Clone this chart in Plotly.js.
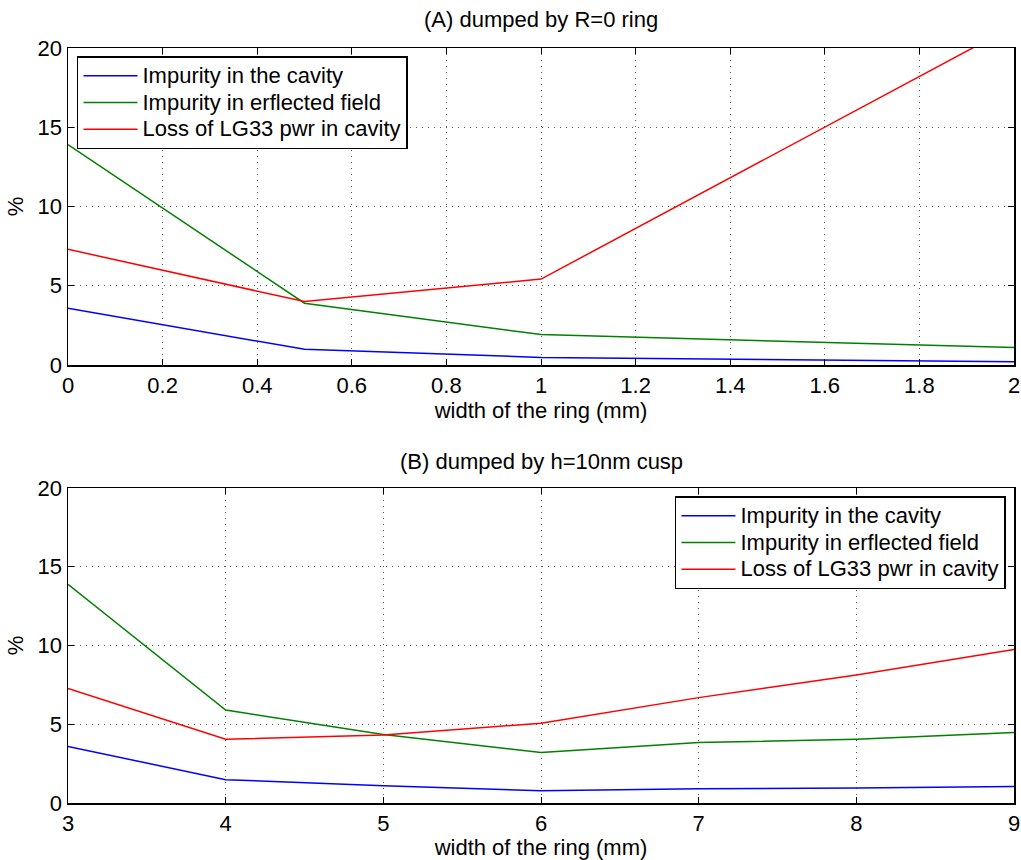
<!DOCTYPE html>
<html>
<head>
<meta charset="utf-8">
<script src="https://cdn.plot.ly/plotly-3.0.1.min.js"></script>
<style>html,body{margin:0;padding:0;background:#fff;}#chart{width:1021px;height:860px;}</style>
</head>
<body>
<div id="chart"></div>
<script>
// Panel A
const xA = [0, 0.5, 1, 2];
const cavityA = [3.58, 0.99, 0.48, 0.21];
const reflectedA = [13.9, 3.9, 1.92, 1.1];
const lossA = [7.3, 4.0, 5.42, 21.4];
// Panel B
const xB = [3, 4, 5, 6, 7, 8, 9];
const cavityB = [3.59, 1.48, 1.1, 0.78, 0.9, 0.95, 1.05];
const reflectedB = [13.88, 5.9, 4.35, 3.2, 3.84, 4.05, 4.47];
const lossB = [7.28, 4.05, 4.32, 5.06, 6.69, 8.12, 9.75];

const names = ["Impurity in the cavity", "Impurity in erflected field", "Loss of LG33 pwr in cavity"];
const colors = ["#0000ff", "#008000", "#ff0000"];
const FONT = "Liberation Sans, Arial, Helvetica, sans-serif";
const FS = 22;
const LEGFS = 18.2;

function tr(x, y, i, ax, leg) {
  return {x: x, y: y, type: "scatter", mode: "lines",
    name: '<span style="font-size:' + FS + 'px">' + names[i] + '</span>',
    line: {color: colors[i], width: 1.5}, xaxis: ax[0], yaxis: ax[1], legend: leg, cliponaxis: true};
}
const data = [
  tr(xA, cavityA, 0, ["x", "y"], "legend"),
  tr(xA, reflectedA, 1, ["x", "y"], "legend"),
  tr(xA, lossA, 2, ["x", "y"], "legend"),
  tr(xB, cavityB, 0, ["x2", "y2"], "legend2"),
  tr(xB, reflectedB, 1, ["x2", "y2"], "legend2"),
  tr(xB, lossB, 2, ["x2", "y2"], "legend2")
];

const axBase = {
  showline: true, linecolor: "#000", linewidth: 1.5, mirror: "ticks",
  ticks: "inside", ticklen: 6, tickcolor: "#000", tickwidth: 1,
  showgrid: true, gridcolor: "#555", griddash: "1px,5px", gridwidth: 1,
  zeroline: false, tickfont: {size: FS, color: "#000", family: FONT}
};
function ax(extra) { return Object.assign({}, axBase, extra); }

const legBase = {xanchor: "left", yanchor: "top", bgcolor: "#fff", bordercolor: "#000",
  borderwidth: 1.5, font: {size: LEGFS, family: FONT}, tracegroupgap: 0, itemwidth: 54};

// plot area: top 48, bottom 803 (height 755)
const H = 755, B = 803;
function py(pix) { return (B - pix) / H; }

const layout = {
  width: 1021, height: 860,
  margin: {l: 68, r: 7, t: 48, b: 57},
  paper_bgcolor: "#fff", plot_bgcolor: "#fff",
  font: {family: FONT, color: "#000", size: FS},
  xaxis: ax({domain: [0, 1], anchor: "y", range: [0, 2], dtick: 0.2,
    title: {text: "width of the ring (mm)", font: {size: FS}, standoff: 5}}),
  yaxis: ax({domain: [py(365), 1], anchor: "x", range: [0, 20], dtick: 5,
    title: {text: "%", font: {size: FS}, standoff: 8}}),
  xaxis2: ax({domain: [0, 1], anchor: "y2", range: [3, 9], dtick: 1,
    title: {text: "width of the ring (mm)", font: {size: FS}, standoff: 5}}),
  yaxis2: ax({domain: [0, py(488)], anchor: "x2", range: [0, 20], dtick: 5,
    title: {text: "%", font: {size: FS}, standoff: 8}}),
  legend: Object.assign({}, legBase, {x: 0.0095, y: py(56)}),
  legend2: Object.assign({}, legBase, {x: 0.9915, y: py(496), xanchor: "right"}),
  showlegend: true,
  annotations: [
    {text: "(A) dumped by R=0 ring", xref: "paper", yref: "paper", x: 0.5, y: py(20),
      xanchor: "center", yanchor: "middle", showarrow: false, font: {size: FS}},
    {text: "(B) dumped by h=10nm cusp", xref: "paper", yref: "paper", x: 0.5, y: py(461),
      xanchor: "center", yanchor: "middle", showarrow: false, font: {size: FS}}
  ]
};

Plotly.newPlot("chart", data, layout, {displayModeBar: false, staticPlot: true});
</script>
</body>
</html>
